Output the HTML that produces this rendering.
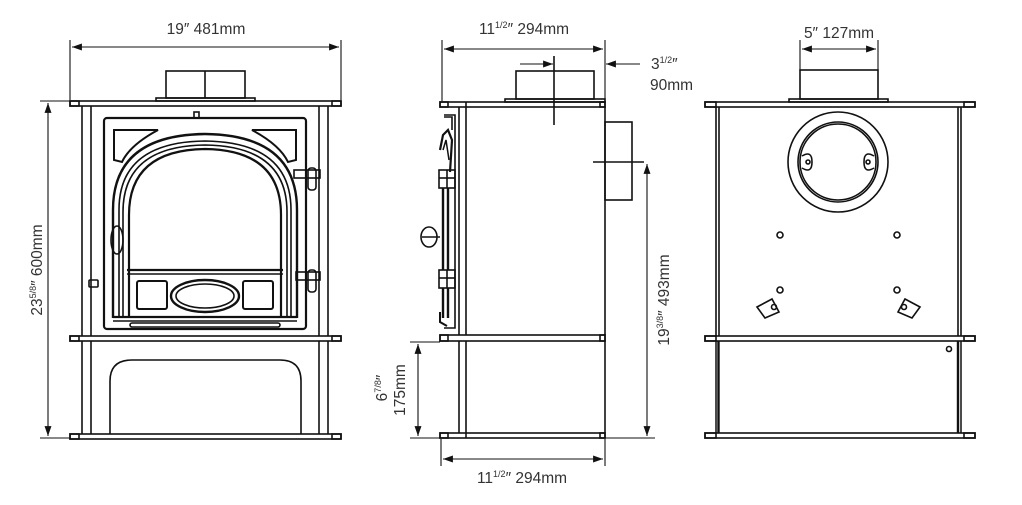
<!DOCTYPE html>
<html><head><meta charset="utf-8"><style>
html,body{margin:0;padding:0;background:#fff;}
svg{display:block}
text{font-family:"Liberation Sans",sans-serif;font-size:15.5px;fill:#333}
.s{font-size:9px}
</style></head><body>
<svg width="1022" height="505" viewBox="0 0 1022 505" xmlns="http://www.w3.org/2000/svg">
<defs>
<marker id="a" viewBox="0 0 10 10" refX="10" refY="5" markerWidth="9" markerHeight="9" orient="auto-start-reverse"><path d="M0,1.5 L10,5 L0,8.5z" fill="#111"/></marker>
</defs>
<g fill="none" stroke="#111" stroke-width="1.6">
<!-- FRONT VIEW -->
<rect x="70" y="101" width="271" height="5"/>
<rect x="70" y="101" width="9" height="5"/><rect x="332" y="101" width="9" height="5"/>
<rect x="156" y="98" width="99" height="3"/>
<rect x="166" y="71" width="79" height="27"/><line x1="205" y1="71" x2="205" y2="98"/>
<line x1="82" y1="106" x2="82" y2="336"/><line x1="91" y1="106" x2="91" y2="336"/>
<line x1="319" y1="106" x2="319" y2="336"/><line x1="328" y1="106" x2="328" y2="336"/>
<rect x="70" y="336" width="271" height="5"/>
<rect x="70" y="336" width="9" height="5"/><rect x="332" y="336" width="9" height="5"/>
<line x1="82" y1="341" x2="82" y2="434"/><line x1="91" y1="341" x2="91" y2="434"/>
<line x1="319" y1="341" x2="319" y2="434"/><line x1="328" y1="341" x2="328" y2="434"/>
<rect x="70" y="434" width="271" height="5"/>
<rect x="70" y="434" width="9" height="5"/><rect x="332" y="434" width="9" height="5"/>
<path d="M110,434 V381 Q110,360 132,360 H280 Q301,360 301,381 V434"/>
<rect x="104" y="118" width="202" height="211" rx="3" stroke-width="2.2"/>
<rect x="194" y="112" width="5" height="6"/>
<path d="M114,130 H158 Q130,145 122,162 L114,160 Z" stroke-width="2"/>
<path d="M296,130 H252 Q280,145 288,162 L296,160 Z" stroke-width="2"/>
<path d="M113,318 V210 Q113,135 205,134 Q297,135 297,210 V318" stroke-width="2.4"/>
<path d="M119,318 V210 Q119,142 205,141 Q291,142 291,210 V318"/>
<path d="M123,318 V212 Q123,146 205,145 Q287,146 287,212 V318"/>
<path d="M129,318 V215 Q129,150 205,149 Q281,150 281,215 V318" stroke-width="2.2"/>
<line x1="127" y1="270" x2="283" y2="270" stroke-width="2.2"/>
<line x1="127" y1="274" x2="283" y2="274"/>
<rect x="137" y="281" width="30" height="28" rx="2" stroke-width="2"/>
<rect x="243" y="281" width="30" height="28" rx="2" stroke-width="2"/>
<ellipse cx="205" cy="296" rx="34" ry="16" stroke-width="2.4"/>
<ellipse cx="205" cy="296" rx="29" ry="12"/>
<line x1="113" y1="317" x2="297" y2="317" stroke-width="2.2"/>
<line x1="113" y1="321" x2="297" y2="321"/>
<rect x="130" y="323" width="150" height="4" rx="2"/>
<ellipse cx="117" cy="240" rx="6" ry="14"/>
<rect x="89" y="280" width="9" height="7" rx="1"/>
<rect x="294" y="170" width="26" height="8"/><rect x="308" y="168" width="8" height="22" rx="3"/>
<rect x="296" y="272" width="24" height="8"/><rect x="308" y="270" width="8" height="22" rx="3"/>
<!-- SIDE VIEW -->
<rect x="440" y="102" width="165" height="5"/>
<rect x="440" y="102" width="8" height="5"/><rect x="600" y="102" width="5" height="5"/>
<line x1="466" y1="102" x2="466" y2="107"/>
<rect x="505" y="99" width="100" height="3"/>
<rect x="516" y="71" width="78" height="28"/>
<line x1="459" y1="107" x2="459" y2="335"/><line x1="466" y1="107" x2="466" y2="335"/>
<line x1="605" y1="107" x2="605" y2="335"/>
<rect x="605" y="122" width="27" height="78"/>
<rect x="440" y="335" width="165" height="6"/>
<rect x="440" y="335" width="8" height="6"/><rect x="600" y="335" width="5" height="6"/>
<line x1="459" y1="341" x2="459" y2="433"/><line x1="466" y1="341" x2="466" y2="433"/>
<line x1="605" y1="341" x2="605" y2="433"/>
<rect x="440" y="433" width="165" height="5"/>
<rect x="440" y="433" width="8" height="5"/><rect x="600" y="433" width="5" height="5"/>
<line x1="466" y1="433" x2="466" y2="438"/>
<path d="M444,115 H455 V328 H444" stroke-width="1.6"/>
<path d="M444,117 H452 V130" />
<path d="M440,150 L443,135 L448,130 L452,140 L450,172" stroke-width="2.2"/>
<path d="M443,150 L446,140 L449,160" stroke-width="1.5"/>
<rect x="439" y="170" width="16" height="18"/><line x1="447" y1="170" x2="447" y2="188"/><line x1="439" y1="178" x2="455" y2="178"/>
<rect x="439" y="270" width="16" height="18"/><line x1="447" y1="270" x2="447" y2="288"/><line x1="439" y1="278" x2="455" y2="278"/>
<line x1="443" y1="188" x2="443" y2="270" stroke-width="2.4"/><line x1="448" y1="188" x2="448" y2="270" stroke-width="2.4"/>
<line x1="443" y1="288" x2="443" y2="318" stroke-width="2.4"/><line x1="448" y1="288" x2="448" y2="318" stroke-width="2.4"/>
<path d="M440,312 L440,322 L447,326" stroke-width="2"/>
<ellipse cx="429" cy="237" rx="8" ry="10"/><line x1="422" y1="237" x2="440" y2="237"/>
<line x1="554" y1="56" x2="554" y2="125"/>
<line x1="593" y1="162" x2="644" y2="162"/>
<!-- BACK VIEW -->
<rect x="705" y="102" width="270" height="5"/>
<rect x="705" y="102" width="11" height="5"/><rect x="964" y="102" width="11" height="5"/>
<rect x="789" y="99" width="99" height="3"/>
<rect x="800" y="70" width="78" height="29"/>
<line x1="716" y1="107" x2="716" y2="336"/><line x1="719" y1="107" x2="719" y2="336"/>
<line x1="958" y1="107" x2="958" y2="336"/><line x1="961" y1="107" x2="961" y2="336"/>
<circle cx="838" cy="162" r="50"/>
<circle cx="838" cy="162" r="40"/><circle cx="838" cy="162" r="38"/>
<path d="M802,156 Q812,150 812,162 Q812,174 802,168"/>
<path d="M874,156 Q864,150 864,162 Q864,174 874,168"/>
<circle cx="808" cy="162" r="2"/><circle cx="868" cy="162" r="2"/>
<circle cx="780" cy="235" r="3"/><circle cx="897" cy="235" r="3"/>
<circle cx="780" cy="290" r="3"/><circle cx="897" cy="290" r="3"/>
<path d="M757,307 L772,299 L779,312 L765,318 Z"/><circle cx="774" cy="307" r="2.5"/>
<path d="M920,307 L905,299 L898,312 L912,318 Z"/><circle cx="904" cy="307" r="2.5"/>
<rect x="705" y="336" width="270" height="5"/>
<rect x="705" y="336" width="11" height="5"/><rect x="964" y="336" width="11" height="5"/>
<line x1="716" y1="341" x2="716" y2="433" stroke-width="1.5"/><line x1="718.5" y1="341" x2="718.5" y2="433" stroke-width="2.4"/>
<line x1="958" y1="341" x2="958" y2="433" stroke-width="2.4"/><line x1="961" y1="341" x2="961" y2="433" stroke-width="1.5"/>
<circle cx="949" cy="349" r="2.5"/>
<rect x="705" y="433" width="270" height="5"/>
<rect x="705" y="433" width="11" height="5"/><rect x="964" y="433" width="11" height="5"/>
</g>
<!-- DIMENSIONS -->
<g fill="none" stroke="#111" stroke-width="1.1">
<line x1="70" y1="40" x2="70" y2="100"/><line x1="341" y1="40" x2="341" y2="100"/>
<line x1="72" y1="47" x2="339" y2="47" marker-start="url(#a)" marker-end="url(#a)"/>
<line x1="40" y1="101" x2="70" y2="101"/><line x1="40" y1="438" x2="70" y2="438"/>
<line x1="48" y1="103" x2="48" y2="436" marker-start="url(#a)" marker-end="url(#a)"/>
<line x1="442" y1="40" x2="442" y2="101"/><line x1="605" y1="40" x2="605" y2="101"/>
<line x1="444" y1="49" x2="603" y2="49" marker-start="url(#a)" marker-end="url(#a)"/>
<line x1="520" y1="64" x2="553" y2="64" marker-end="url(#a)"/>
<line x1="640" y1="64" x2="606" y2="64" marker-end="url(#a)"/>
<line x1="441" y1="439" x2="441" y2="466"/><line x1="605" y1="439" x2="605" y2="466"/>
<line x1="443" y1="459" x2="603" y2="459" marker-start="url(#a)" marker-end="url(#a)"/>
<line x1="410" y1="342" x2="440" y2="342"/><line x1="410" y1="438" x2="655" y2="438"/>
<line x1="418" y1="344" x2="418" y2="436" marker-start="url(#a)" marker-end="url(#a)"/>
<line x1="647" y1="164" x2="647" y2="436" marker-start="url(#a)" marker-end="url(#a)"/>
<line x1="800" y1="40" x2="800" y2="70"/><line x1="878" y1="40" x2="878" y2="70"/>
<line x1="802" y1="49" x2="876" y2="49" marker-start="url(#a)" marker-end="url(#a)"/>
</g>
<text x="206" y="34" text-anchor="middle">19″ 481mm</text>
<text x="524" y="34" text-anchor="middle">11<tspan class="s" dy="-6">1/2</tspan><tspan dy="6">″ 294mm</tspan></text>
<text x="522" y="483" text-anchor="middle">11<tspan class="s" dy="-6">1/2</tspan><tspan dy="6">″ 294mm</tspan></text>
<text x="651" y="69">3<tspan class="s" dy="-6">1/2</tspan><tspan dy="6">″</tspan></text>
<text x="650" y="90">90mm</text>
<text x="839" y="38" text-anchor="middle">5″ 127mm</text>
<text transform="translate(42,270) rotate(-90)" text-anchor="middle">23<tspan class="s" dy="-6">5/8</tspan><tspan dy="6">″ 600mm</tspan></text>
<text transform="translate(669,300) rotate(-90)" text-anchor="middle">19<tspan class="s" dy="-6">3/8</tspan><tspan dy="6">″ 493mm</tspan></text>
<text transform="translate(387,388) rotate(-90)" text-anchor="middle">6<tspan class="s" dy="-6">7/8</tspan><tspan dy="6">″</tspan></text>
<text transform="translate(405,390) rotate(-90)" text-anchor="middle">175mm</text>
</svg>
</body></html>
